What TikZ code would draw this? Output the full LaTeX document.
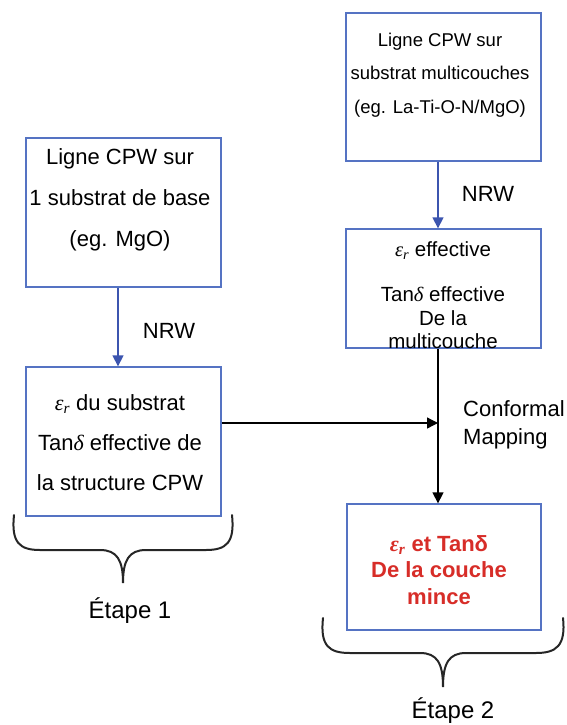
\documentclass[tikz,border=0pt]{standalone}
\usepackage{fontspec}
\setmainfont{Liberation Sans}
\newfontfamily\grk{Liberation Serif}
\usetikzlibrary{arrows.meta}
\definecolor{boxblue}{RGB}{85,115,195}
\definecolor{arrblue}{RGB}{60,85,175}
\definecolor{redtxt}{RGB}{215,45,40}
\newcommand{\epsr}{{\grk\itshape ε}\textsubscript{\grk\itshape r}}
\newcommand{\dlt}{{\grk\itshape δ}}
\tikzset{
  box/.style={draw=boxblue, line width=1.3pt, rectangle, inner sep=0pt},
  txt/.style={align=center, inner sep=0pt, text=black},
  barrow/.style={draw=arrblue, line width=1.3pt, -{Triangle[length=11pt,width=11pt]}},
  karrow/.style={draw=black, line width=1.3pt, -{Triangle[length=11pt,width=11pt]}},
  brace/.style={draw=black!85, line width=2pt, line cap=round},
}
\begin{document}
\begin{tikzpicture}[x=1pt,y=-1pt]
\useasboundingbox (0,0) rectangle (566,725);
% boxes
\node[box, minimum width=195pt, minimum height=149pt] (A) at (123.5,212.5) {};
\node[box, minimum width=195pt, minimum height=149pt] (B) at (123.5,441.5) {};
\node[box, minimum width=195pt, minimum height=148pt] (C) at (443.5,87) {};
\node[box, minimum width=195pt, minimum height=119pt] (D) at (443.5,288.5) {};
\node[box, minimum width=194pt, minimum height=126pt] (E) at (444,567) {};
% texts
\node[txt, font=\fontsize{22}{41}\selectfont] (At) at (120,200)
  {Ligne CPW sur\\1 substrat de base\\(eg. MgO)};
\node[txt, font=\fontsize{22}{40}\selectfont] (Bt) at (120,443)
  {\epsr\ du substrat\\Tan\dlt\ effective de\\la structure CPW};
\node[txt, font=\fontsize{18.5}{33.5}\selectfont] (Ct) at (440,75)
  {Ligne CPW sur\\substrat multicouches\\(eg. La-Ti-O-N/MgO)};
\node[txt, font=\fontsize{20.5}{23.5}\selectfont] (Dt) at (443,295)
  {\epsr\ effective\\[22pt]Tan\dlt\ effective\\De la\\multicouche};
\node[txt, font=\fontsize{22}{26.5}\selectfont\bfseries, text=redtxt] (Et) at (439,570)
  {\epsr\ et Tanδ\\De la couche\\mince};
% labels
\node[txt, font=\fontsize{22}{26}\selectfont] (nrw1) at (169,331) {NRW};
\node[txt, font=\fontsize{22}{26}\selectfont] (nrw2) at (488,194) {NRW};
\node[txt, font=\fontsize{22}{28}\selectfont, align=left, anchor=west] (cm) at (463,425)
  {Conformal\\Mapping};
\node[txt, font=\fontsize{24}{28}\selectfont] (et1) at (130,611) {Étape 1};
\node[txt, font=\fontsize{24}{28}\selectfont] (et2) at (453,711) {Étape 2};
% connectors
\draw[barrow] ([xshift=-5.5pt]A.south) -- ([xshift=-5.5pt]B.north);
\draw[barrow] ([xshift=-5.5pt]C.south) -- ([xshift=-5.5pt]D.north);
\coordinate (J) at ([xshift=-5.5pt]D.south);
\draw[karrow] (J) -- ([xshift=-6pt]E.north);
\coordinate (Bo) at ([yshift=18.5pt]B.east);
\draw[karrow] (Bo) -- (Bo -| J);
% braces
\draw[brace] (14,515) .. controls (11,543) and (20,550) .. (40,550) -- (100,550)
  .. controls (117,550) and (123,560) .. (123,583)
  .. controls (123,560) and (129,550) .. (146,550) -- (206,550)
  .. controls (226,550) and (235,543) .. (232,515);
\draw[brace] (323,618) .. controls (320,646) and (329,653) .. (350,653) -- (420,653)
  .. controls (437,653) and (443,663) .. (443,687)
  .. controls (443,663) and (449,653) .. (466,653) -- (536,653)
  .. controls (556,653) and (566,646) .. (563,618);
\end{tikzpicture}
\end{document}
